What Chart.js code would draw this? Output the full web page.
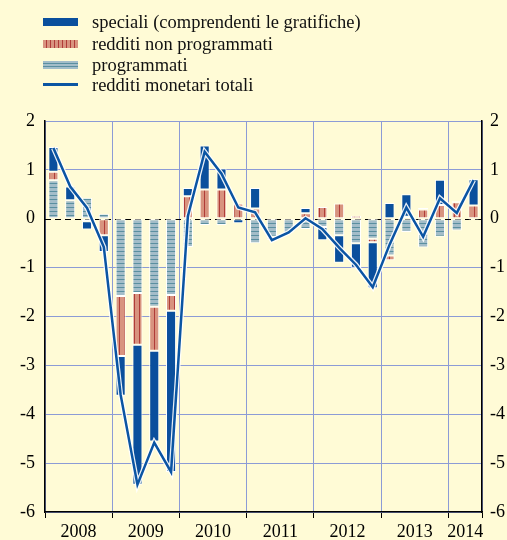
<!DOCTYPE html>
<html>
<head>
<meta charset="utf-8">
<script src="https://cdn.jsdelivr.net/npm/chart.js@4.4.1/dist/chart.umd.min.js"></script>
<style>
  html, body { margin: 0; padding: 0; background: #fffbd6; }
  #wrap { position: relative; width: 507px; height: 540px; }
  #myChart { position: absolute; left: 0; top: 0; }
  .item { position: absolute; left: 43px; height: 20px; width: 440px; white-space: nowrap;
          font-family: 'Liberation Serif', 'Times New Roman', serif; font-size: 18.5px; color: #111; }
  .sw { position: absolute; left: 0; top: 6px; width: 35px; height: 8px; }
  .txt { position: absolute; left: 49px; top: 0; line-height: 20px; }
</style>
</head>
<body>
<div id="wrap">
  <canvas id="myChart" width="507" height="540"></canvas>
  <div class="item" style="top:12px"><span class="sw" style="background:#0a4f9d"></span><span class="txt">speciali (comprendenti le gratifiche)</span></div>
  <div class="item" style="top:34px"><span class="sw" style="background:repeating-linear-gradient(90deg,#d8937f 0 3px,#b03c38 3px 4px)"></span><span class="txt">redditi non programmati</span></div>
  <div class="item" style="top:55px"><span class="sw" style="background:repeating-linear-gradient(180deg,#a3bdc9 0 2px,#5a8fa0 2px 3px)"></span><span class="txt">programmati</span></div>
  <div class="item" style="top:75px"><span class="sw" style="top:8px;height:3px;background:#0b55a3"></span><span class="txt">redditi monetari totali</span></div>
</div>
<script>
document.addEventListener('DOMContentLoaded', function () {

  const quarters = [
    '2008 T1', '2008 T2', '2008 T3', '2008 T4',
    '2009 T1', '2009 T2', '2009 T3', '2009 T4',
    '2010 T1', '2010 T2', '2010 T3', '2010 T4',
    '2011 T1', '2011 T2', '2011 T3', '2011 T4',
    '2012 T1', '2012 T2', '2012 T3', '2012 T4',
    '2013 T1', '2013 T2', '2013 T3', '2013 T4',
    '2014 T1', '2014 T2'
  ];
  const years = ['2008', '2009', '2010', '2011', '2012', '2013', '2014'];
  const yTicks = [2, 1, 0, -1, -2, -3, -4, -5, -6];

  const programmati = [0.79, 0.38, 0.43, 0.10, -1.58, -1.52, -1.80, -1.56, -0.58, -0.13, -0.13, 0.00,
    -0.50, -0.37, -0.28, -0.21, -0.17, -0.34, -0.50, -0.41, -0.75, -0.27, -0.59, -0.37, -0.24, -0.02];
  const nonProgrammati = [0.17, 0.00, -0.05, -0.34, -1.23, -1.06, -0.90, -0.32, 0.46, 0.60, 0.60, 0.31,
    0.21, -0.06, 0.00, 0.11, 0.24, 0.31, 0.06, -0.07, -0.10, 0.04, 0.19, 0.28, 0.34, 0.27];
  const speciali = [0.51, 0.28, -0.17, -0.34, -0.81, -2.86, -1.86, -3.30, 0.17, 0.90, 0.43, -0.09,
    0.42, 0.00, 0.00, 0.11, -0.27, -0.56, -0.50, -0.94, 0.32, 0.46, 0.03, 0.52, 0.02, 0.54];
  const totali = [1.45, 0.66, 0.22, -0.58, -3.60, -5.44, -4.58, -5.18, 0.05, 1.37, 0.92, 0.23,
    0.13, -0.44, -0.28, 0.01, -0.21, -0.59, -0.94, -1.40, -0.53, 0.23, -0.37, 0.42, 0.12, 0.79];

  const gridBlue = '#8c9bd6';
  const clear = 'rgba(0,0,0,0)';
  const serif = { family: "'Liberation Serif', 'Times New Roman', serif", size: 18 };

  // striped fills for the bars
  function stripes(bg, fg, vertical, period) {
    const c = document.createElement('canvas');
    c.width = period; c.height = period;
    const g = c.getContext('2d');
    g.fillStyle = bg; g.fillRect(0, 0, period, period);
    g.fillStyle = fg;
    if (vertical) g.fillRect(period - 1, 0, 1, period);
    else g.fillRect(0, period - 1, period, 1);
    return g.createPattern(c, 'repeat');
  }
  const patNonProg = stripes('#d8937f', '#b03c38', true, 5);
  const patProg = stripes('#a3bdc9', '#5a8fa0', false, 4);

  // year boundaries and centres on the bottom axis
  const boundaries = [0, 4, 8, 12, 16, 20, 24, 26];
  const yearPos = [2, 6, 10, 14, 18, 22, 25];
  const tickVal = c => (c && c.tick ? c.tick.value : null);

  const zeroLine = {
    id: 'zeroLine',
    beforeDatasetsDraw(chart) {
      const { ctx, chartArea, scales } = chart;
      const y = Math.round(scales.y.getPixelForValue(0)) + 0.5;
      ctx.save();
      ctx.strokeStyle = '#000';
      ctx.lineWidth = 1;
      ctx.setLineDash([6, 4]);
      ctx.beginPath();
      ctx.moveTo(chartArea.left, y);
      ctx.lineTo(chartArea.right, y);
      ctx.stroke();
      ctx.restore();
    }
  };

  const barStyle = { borderColor: '#ffffff', borderWidth: 1, borderSkipped: false,
    barPercentage: 0.6, categoryPercentage: 1, order: 2, yAxisID: 'y', xAxisID: 'x' };

  const canvas = document.getElementById('myChart');
  const ctx = canvas.getContext('2d');

  new Chart(ctx, {
    type: 'bar',
    data: {
      labels: quarters,
      datasets: [
        { type: 'line', label: 'redditi monetari totali', data: totali, borderColor: '#0b55a3',
          borderWidth: 2.5, pointRadius: 0, tension: 0, yAxisID: 'yl', xAxisID: 'x', order: 0 },
        { type: 'line', label: 'halo', data: totali, borderColor: 'rgba(255,255,255,0.9)',
          borderWidth: 5, pointRadius: 0, tension: 0, yAxisID: 'yl', xAxisID: 'x', order: 1 },
        Object.assign({ label: 'programmati', data: programmati, backgroundColor: patProg }, barStyle),
        Object.assign({ label: 'redditi non programmati', data: nonProgrammati, backgroundColor: patNonProg }, barStyle),
        Object.assign({ label: 'speciali (comprendenti le gratifiche)', data: speciali, backgroundColor: '#0a4f9d' }, barStyle)
      ]
    },
    options: {
      responsive: false,
      animation: false,
      devicePixelRatio: 1,
      layout: { padding: { top: 121, left: 0, right: 0, bottom: 0 } },
      plugins: { legend: { display: false }, tooltip: { enabled: false } },
      scales: {
        x: { type: 'category', display: false, offset: true, stacked: true },
        x2: {
          type: 'linear', position: 'bottom', min: 0, max: 26, offset: false,
          afterBuildTicks(s) {
            s.ticks = boundaries.concat(yearPos).sort((a, b) => a - b).map(v => ({ value: v }));
          },
          afterFit(s) { s.height = 28; },
          ticks: {
            autoSkip: false, maxRotation: 0, padding: 3, color: '#000', font: serif,
            callback: v => { const i = yearPos.indexOf(v); return i >= 0 ? years[i] : ''; }
          },
          grid: {
            offset: false,
            color: c => boundaries.includes(tickVal(c)) ? gridBlue : clear,
            tickColor: c => boundaries.includes(tickVal(c)) ? '#000' : clear,
            tickLength: 6, lineWidth: 1
          },
          border: { color: '#000', width: 1.5 }
        },
        y: {
          stacked: true, position: 'left', min: -6, max: 2,
          afterBuildTicks(s) { s.ticks = yTicks.map(v => ({ value: v })); },
          afterFit(s) { s.width = 45; },
          ticks: { color: '#000', font: serif, padding: 10, callback: v => String(v) },
          grid: { color: c => tickVal(c) === 0 ? clear : gridBlue, drawTicks: false, lineWidth: 1 },
          border: { color: '#000', width: 1.5 }
        },
        y2: {
          position: 'right', min: -6, max: 2,
          afterBuildTicks(s) { s.ticks = yTicks.map(v => ({ value: v })); },
          afterFit(s) { s.width = 25; },
          ticks: { color: '#000', font: serif, padding: 8, callback: v => String(v) },
          grid: { display: false, drawTicks: false },
          border: { color: '#000', width: 1.5 }
        },
        yl: { display: false, min: -6, max: 2 }
      }
    },
    plugins: [zeroLine]
  });

});
</script>
</body>
</html>
